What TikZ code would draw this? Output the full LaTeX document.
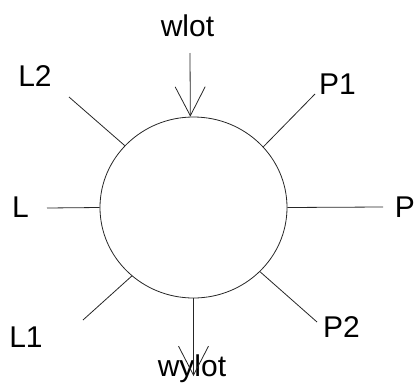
\documentclass[tikz,border=0pt]{standalone}
\usepackage{fontspec}
\setmainfont{Liberation Sans}
\usetikzlibrary{arrows.meta, shapes.geometric}

\begin{document}
\begin{tikzpicture}[x=1pt,y=-1pt,
		lbl/.style={anchor=base, inner sep=0pt, font=\fontsize{30}{32}\selectfont},
		conn/.style={draw=black!85, line width=0.8pt},
		flow/.style={conn, -{Straight Barb[length=29pt, width=30pt, line width=0.8pt]}}]
		\useasboundingbox (0,0) rectangle (415,383);
		\node[ellipse, draw=black!85, line width=0.8pt, minimum width=187pt, minimum height=181pt, inner sep=0pt] (kolo) at (193.5,207.5) {};
		% etykiety
		\node[lbl] (wlot) at (187.5,36) {wlot};
		\node[lbl] (wylot) at (192,376) {wylot};
		\node[lbl] (L2) at (35,86) {L2};
		\node[lbl] (P1) at (337.5,94) {P1};
		\node[lbl] (L) at (20.5,217) {L};
		\node[lbl] (P) at (405,217) {P};
		\node[lbl] (L1) at (26,347) {L1};
		\node[lbl] (P2) at (341.5,337) {P2};
		% wolne konce
		\coordinate (wlotk) at (190,53);
		\coordinate (wylotk) at (193.5,376);
		\coordinate (L2k) at (69,97);
		\coordinate (P1k) at (315,94);
		\coordinate (Lk) at (47,208);
		\coordinate (Pk) at (383,207);
		\coordinate (L1k) at (83,320);
		\coordinate (P2k) at (317,322);
		% strzalki i linie
		\draw[flow] (wlotk) -- (kolo.92);
		\draw[flow] (kolo.270) -- (wylotk);
		\draw[conn] (L2k) -- (kolo.138.5);
		\draw[conn] (P1k) -- (kolo.41);
		\draw[conn] (Lk) -- (kolo.180);
		\draw[conn] (Pk) -- (kolo.0);
		\draw[conn] (L1k) -- (kolo.-132);
		\draw[conn] (P2k) -- (kolo.-44);
	\end{tikzpicture}
\end{document}
